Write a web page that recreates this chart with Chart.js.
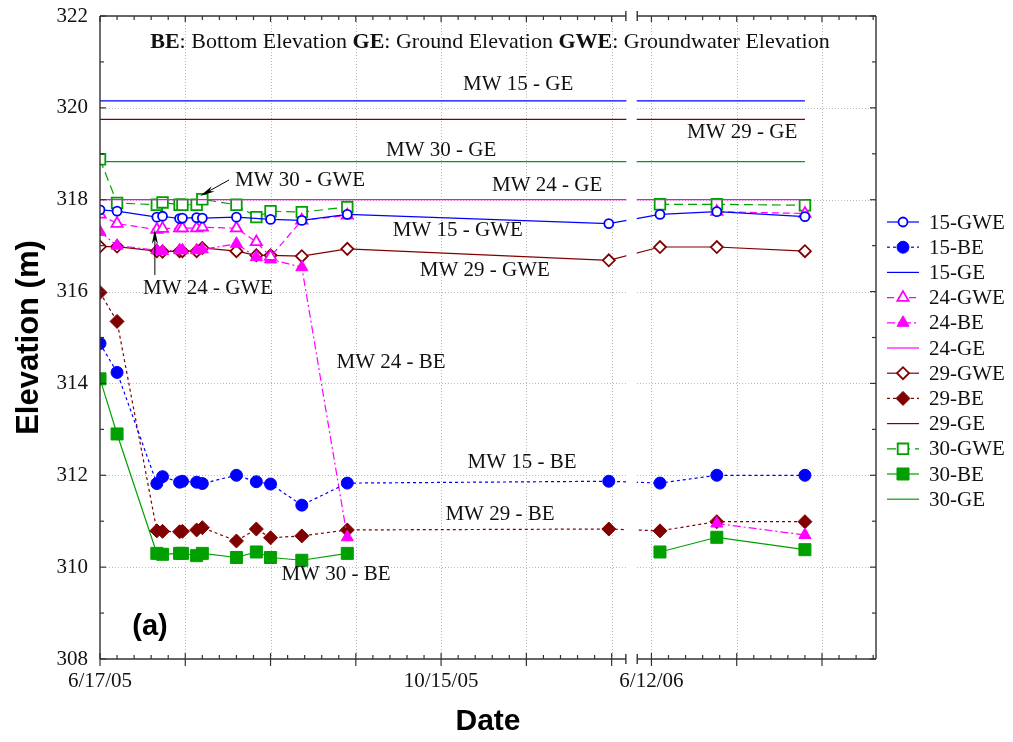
<!DOCTYPE html>
<html>
<head>
<meta charset="utf-8">
<style>
  html, body { margin: 0; padding: 0; background: #fff; }
  #wrap { position: relative; width: 1013px; height: 742px; }
</style>
<script src="https://cdn.jsdelivr.net/npm/chart.js@4.4.1/dist/chart.umd.min.js"></script>
</head>
<body>
<div id="wrap"><canvas id="elev"></canvas></div>
<script>
// sampling dates, shared by all the well series
const sampleDates = ['2005-06-17', '2005-06-23', '2005-07-07', '2005-07-09', '2005-07-15', '2005-07-16',
  '2005-07-21', '2005-07-23', '2005-08-04', '2005-08-11', '2005-08-16', '2005-08-27', '2005-09-12',
  '2005-12-13', '2006-06-15', '2006-07-05', '2006-08-05'];

// groundwater elevation (m)
const mw15GWE = [317.78, 317.75, 317.62, 317.64, 317.59, 317.60, 317.61, 317.60, 317.62, null, 317.57, 317.55, 317.68, 317.48, 317.68, 317.74, 317.63];
const mw24GWE = [317.68, 317.48, 317.35, 317.37, 317.38, 317.38, 317.38, 317.40, 317.38, 317.08, 316.76, 317.55, 317.66, null, null, 317.74, 317.70];
const mw29GWE = [316.98, 316.98, 316.88, 316.87, 316.88, 316.88, 316.88, 316.95, 316.88, 316.79, 316.79, 316.77, 316.93, 316.68, 316.97, 316.97, 316.88];
const mw30GWE = [318.88, 317.93, 317.89, 317.94, 317.89, 317.89, 317.89, 318.01, 317.89, 317.62, 317.75, 317.73, 317.84, null, 317.90, 317.90, 317.88];

// bottom elevation (m)
const mw15BE = [314.87, 314.24, 311.82, 311.97, 311.85, 311.87, 311.85, 311.82, 312.00, 311.86, 311.81, 311.35, 311.83, 311.87, 311.83, 312.00, 312.00];
const mw24BE = [317.30, 317.00, 316.90, 316.88, 316.90, 316.90, 316.90, 316.92, 317.04, 316.75, 316.70, 316.53, 310.65, null, null, 310.95, 310.70];
const mw29BE = [315.98, 315.35, 310.79, 310.78, 310.77, 310.78, 310.81, 310.86, 310.57, 310.83, 310.64, 310.68, 310.81, 310.83, 310.79, 310.99, 310.99];
const mw30BE = [314.10, 312.90, 310.30, 310.28, 310.30, 310.30, 310.25, 310.30, 310.21, 310.33, 310.21, 310.15, 310.30, null, 310.33, 310.65, 310.38];

// ground elevation (m)
const mw15GE = 320.15;
const mw24GE = 318.00;
const mw29GE = 319.75;
const mw30GE = 318.83;

// date axis (broken between Dec 05 and Jun 06)
const axisStart = '2005-06-17';
const axisEnd = '2006-08-30';
const breakStart = '2005-12-19';
const breakEnd = '2006-06-07';
const tickLabelDates = ['2005-06-17', '2005-10-15', '2006-06-12'];
const tickLabels = ['6/17/05', '10/15/05', '6/12/06'];
const yTickValues = [308, 310, 312, 314, 316, 318, 320, 322];

const DAY = 86400000;
function dayOf(s) { return Math.round((Date.parse(s) - Date.parse(axisStart)) / DAY); }
const brA = dayOf(breakStart), brB = dayOf(breakEnd), brWidth = 4;
function toAxis(d) { return d <= brA ? d : d - (brB - brA - brWidth); }

const BLUE = '#0000ff', MAG = '#ff00ff', DRED = '#800000', GREEN = '#00a000';

function pts(vals) {
    return sampleDates.map((d, i) => ({ x: toAxis(dayOf(d)), y: vals[i] }));
}
function flat(v) {
    return [{ x: toAxis(dayOf(sampleDates[0])), y: v }, { x: toAxis(dayOf(sampleDates[sampleDates.length - 1])), y: v }];
}

function series(label, data, color, dash, style, radius, filled, span) {
    return {
        label: label,
        data: data,
        borderColor: color,
        borderWidth: 1.2,
        borderDash: dash,
        pointStyle: style || 'circle',
        pointRadius: radius || 0,
        pointBorderWidth: filled ? 1 : 1.8,
        pointBorderColor: color,
        pointBackgroundColor: filled ? color : '#ffffff',
        spanGaps: !!span,
        tension: 0,
        fill: false
    };
}

const datasets = [
    series('15-GWE', pts(mw15GWE), BLUE, [], 'circle', 4.5, false, true),
    series('15-BE', pts(mw15BE), BLUE, [3, 3], 'circle', 6, true),
    series('15-GE', flat(mw15GE), BLUE, []),
    series('24-GWE', pts(mw24GWE), MAG, [7, 4], 'triangle', 6.5, false),
    series('24-BE', pts(mw24BE), MAG, [8, 3, 2, 3], 'triangle', 7, true),
    series('24-GE', flat(mw24GE), MAG, []),
    series('29-GWE', pts(mw29GWE), DRED, [], 'rectRot', 6, false),
    series('29-BE', pts(mw29BE), DRED, [3, 3], 'rectRot', 7, true),
    series('29-GE', flat(mw29GE), DRED, []),
    series('30-GWE', pts(mw30GWE), GREEN, [9, 5], 'rect', 7.5, false),
    series('30-BE', pts(mw30BE), GREEN, [], 'rect', 8.5, true),
    series('30-GE', flat(mw30GE), GREEN, [])
];

// text labels placed in axis units (x: axis days, y: elevation)
const notes = [
    { text: 'MW 15 - GE', x: 147.1, y: 320.50 },
    { text: 'MW 29 - GE', x: 225.9, y: 319.47 },
    { text: 'MW 30 - GE', x: 120.0, y: 319.08 },
    { text: 'MW 24 - GE', x: 157.3, y: 318.30 },
    { text: 'MW 30 - GWE', x: 70.4, y: 318.41 },
    { text: 'MW 15 - GWE', x: 125.9, y: 317.32 },
    { text: 'MW 29 - GWE', x: 135.4, y: 316.47 },
    { text: 'MW 24 - GWE', x: 38.0, y: 316.06 },
    { text: 'MW 24 - BE', x: 102.4, y: 314.45 },
    { text: 'MW 15 - BE', x: 148.5, y: 312.27 },
    { text: 'MW 29 - BE', x: 140.7, y: 311.14 },
    { text: 'MW 30 - BE', x: 83.0, y: 309.83 }
];
const arrows = [
    { x1: 45.4, y1: 318.43, x2: 35.2, y2: 318.08 },
    { x1: 19.3, y1: 316.36, x2: 19.3, y2: 317.36 }
];

const SERIF = "'Liberation Serif', 'Times New Roman', serif";
const SANS = "'Liberation Sans', Arial, sans-serif";

function tickRun(start, lo, hi, step) {
    const out = [];
    const s = dayOf(start);
    for (let d = s; d >= lo; d -= step) out.push(d);
    for (let d = s + step; d <= hi; d += step) out.push(d);
    return out;
}

function line(ctx, x1, y1, x2, y2) {
    ctx.beginPath();
    ctx.moveTo(x1, y1);
    ctx.lineTo(x2, y2);
    ctx.stroke();
}

function drawMarker(ctx, ds, x, y) {
    if (!ds.pointRadius) return;
    ctx.save();
    ctx.fillStyle = ds.pointBackgroundColor;
    ctx.strokeStyle = ds.pointBorderColor;
    ctx.lineWidth = ds.pointBorderWidth;
    ctx.setLineDash([]);
    Chart.helpers.drawPoint(ctx, { pointStyle: ds.pointStyle, radius: ds.pointRadius, rotation: 0, borderWidth: ds.pointBorderWidth }, x, y);
    ctx.restore();
}

const framePlugin = {
    id: 'frame',
    beforeDatasetsDraw(chart) {
        const { ctx, chartArea: a, scales: { x, y } } = chart;
        ctx.save();
        ctx.strokeStyle = '#b8b8b8';
        ctx.lineWidth = 1;
        ctx.setLineDash([1, 2]);
        const majors = tickRun('2005-06-17', 0, brA, 30).concat(tickRun('2006-06-12', brB, dayOf(axisEnd), 30));
        majors.forEach(d => {
            const px = Math.round(x.getPixelForValue(toAxis(d))) + 0.5;
            if (px > a.left + 2 && px < a.right - 2) line(ctx, px, a.top, px, a.bottom);
        });
        yTickValues.forEach(v => {
            const py = Math.round(y.getPixelForValue(v)) + 0.5;
            if (py > a.top + 2 && py < a.bottom - 2) line(ctx, a.left, py, a.right, py);
        });
        ctx.restore();
    },
    afterDatasetsDraw(chart) {
        const { ctx, chartArea: a, scales: { x } } = chart;
        const b1 = x.getPixelForValue(toAxis(brA));
        const b2 = x.getPixelForValue(toAxis(brB));
        ctx.save();
        ctx.fillStyle = '#ffffff';
        ctx.fillRect(b1 + 0.5, a.top - 3, b2 - b1 - 1, a.bottom - a.top + 6);
        ctx.restore();
    },
    afterDraw(chart) {
        const { ctx, chartArea: a, scales: { x, y } } = chart;
        const b1 = x.getPixelForValue(toAxis(brA));
        const b2 = x.getPixelForValue(toAxis(brB));
        ctx.save();
        ctx.strokeStyle = '#333';
        ctx.lineWidth = 1.4;
        ctx.setLineDash([]);
        // frame, split at the break
        line(ctx, a.left, a.top, a.left, a.bottom);
        line(ctx, a.right, a.top, a.right, a.bottom);
        [a.top, a.bottom].forEach(yy => {
            line(ctx, a.left, yy, b1, yy);
            line(ctx, b2, yy, a.right, yy);
            line(ctx, b1, yy - 5, b1, yy + 5);
            line(ctx, b2, yy - 5, b2, yy + 5);
        });
        // x ticks
        ctx.lineWidth = 1.2;
        const minors = tickRun('2005-06-17', 0, brA, 6).concat(tickRun('2006-06-12', brB, dayOf(axisEnd), 6));
        minors.forEach(d => {
            const px = x.getPixelForValue(toAxis(d));
            const major = d % 30 === 0 || (d - dayOf('2006-06-12')) % 30 === 0;
            if (major) {
                line(ctx, px, a.bottom - 6, px, a.bottom + 7);
                line(ctx, px, a.top, px, a.top + 6);
            } else {
                line(ctx, px, a.bottom - 4, px, a.bottom);
                line(ctx, px, a.top, px, a.top + 4);
            }
        });
        // y ticks, left and right
        for (let v = yTickValues[0]; v <= yTickValues[yTickValues.length - 1]; v += 1) {
            const py = y.getPixelForValue(v);
            const len = v % 2 === 0 ? 6 : 4;
            line(ctx, a.left, py, a.left + len, py);
            line(ctx, a.right - len, py, a.right, py);
        }
        ctx.restore();

        // header
        ctx.save();
        const parts = [['BE', true], [': Bottom Elevation ', false], ['GE', true], [': Ground Elevation ', false], ['GWE', true], [': Groundwater Elevation', false]];
        let total = 0;
        parts.forEach(p => {
            ctx.font = (p[1] ? 'bold ' : '') + '22px ' + SERIF;
            p.push(ctx.measureText(p[0]).width);
            total += p[2];
        });
        let cx = 490 - total / 2;
        ctx.fillStyle = '#111';
        ctx.textBaseline = 'middle';
        ctx.textAlign = 'left';
        parts.forEach(p => {
            ctx.font = (p[1] ? 'bold ' : '') + '22px ' + SERIF;
            ctx.fillText(p[0], cx, 42);
            cx += p[2];
        });

        // notes
        ctx.font = '21px ' + SERIF;
        ctx.textAlign = 'center';
        notes.forEach(n => ctx.fillText(n.text, x.getPixelForValue(n.x), y.getPixelForValue(n.y)));
        ctx.font = 'bold 29px ' + SANS;
        ctx.fillStyle = '#000';
        ctx.fillText('(a)', x.getPixelForValue(17.6), y.getPixelForValue(308.70));

        // arrows
        ctx.strokeStyle = '#000';
        ctx.fillStyle = '#000';
        ctx.lineWidth = 1;
        arrows.forEach(r => {
            const X1 = x.getPixelForValue(r.x1), Y1 = y.getPixelForValue(r.y1);
            const X2 = x.getPixelForValue(r.x2), Y2 = y.getPixelForValue(r.y2);
            const ang = Math.atan2(Y2 - Y1, X2 - X1);
            const L = 15, W = 3;
            line(ctx, X1, Y1, X2 - Math.cos(ang) * L * 0.6, Y2 - Math.sin(ang) * L * 0.6);
            ctx.beginPath();
            ctx.moveTo(X2, Y2);
            ctx.lineTo(X2 - Math.cos(ang) * L - Math.sin(ang) * W, Y2 - Math.sin(ang) * L + Math.cos(ang) * W);
            ctx.lineTo(X2 - Math.cos(ang) * L * 0.7, Y2 - Math.sin(ang) * L * 0.7);
            ctx.lineTo(X2 - Math.cos(ang) * L + Math.sin(ang) * W, Y2 - Math.sin(ang) * L - Math.cos(ang) * W);
            ctx.closePath();
            ctx.fill();
        });

        // legend
        const lx = a.right + 11, ly = 222, step = 25.2;
        chart.data.datasets.forEach((ds, i) => {
            const yy = ly + i * step;
            ctx.strokeStyle = ds.borderColor;
            ctx.lineWidth = ds.borderWidth;
            ctx.setLineDash(ds.borderDash);
            line(ctx, lx, yy, lx + 32, yy);
            ctx.setLineDash([]);
            drawMarker(ctx, ds, lx + 16, yy);
            ctx.fillStyle = '#111';
            ctx.font = '21px ' + SERIF;
            ctx.textAlign = 'left';
            ctx.textBaseline = 'middle';
            ctx.fillText(ds.label, lx + 42, yy + 1);
        });
        ctx.restore();
    }
};

new Chart(document.getElementById('elev'), {
    type: 'line',
    data: { datasets: datasets },
    options: {
        responsive: true,
        maintainAspectRatio: false,
        animation: false,
        layout: { padding: { top: 16, right: 137, left: 0, bottom: 0 } },
        plugins: { legend: { display: false }, tooltip: { enabled: false } },
        scales: {
            x: {
                type: 'linear',
                min: 0,
                max: toAxis(dayOf(axisEnd)),
                grid: { display: false, drawTicks: false },
                border: { display: false },
                afterFit: s => { s.height = 83; s.paddingLeft = 0; s.paddingRight = 0; },
                afterBuildTicks: s => { s.ticks = tickLabelDates.map(d => ({ value: toAxis(dayOf(d)) })); },
                ticks: {
                    autoSkip: false,
                    maxRotation: 0,
                    padding: 10,
                    color: '#111',
                    font: { family: SERIF, size: 21 },
                    callback: (v, i) => tickLabels[i]
                },
                title: { display: true, text: 'Date', color: '#000', font: { family: SANS, size: 30, weight: 'bold' }, padding: { top: 0, bottom: 2 } }
            },
            y: {
                min: 308,
                max: 322,
                grid: { display: false, drawTicks: false },
                border: { display: false },
                afterFit: s => { s.width = 100; s.paddingTop = 0; s.paddingBottom = 0; },
                afterBuildTicks: s => { s.ticks = yTickValues.map(v => ({ value: v })); },
                ticks: { padding: 12, color: '#111', font: { family: SERIF, size: 21 } },
                title: { display: true, text: 'Elevation (m)', color: '#000', font: { family: SANS, size: 31, weight: 'bold' }, padding: { top: 11, bottom: 0 } }
            }
        }
    },
    plugins: [framePlugin]
});
</script>
</body>
</html>
